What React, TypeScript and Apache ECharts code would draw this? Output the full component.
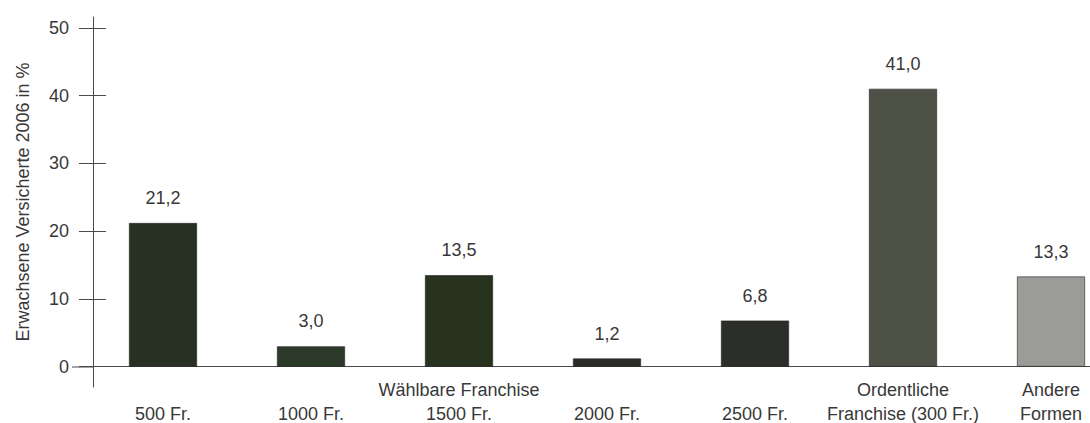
import React, { useEffect, useRef } from "react";
import * as echarts from "echarts";

const categories = [
  "500 Fr.",
  "1000 Fr.",
  "Wählbare Franchise\n1500 Fr.",
  "2000 Fr.",
  "2500 Fr.",
  "Ordentliche\nFranchise (300 Fr.)",
  "Andere\nFormen",
];
const values = [21.2, 3.0, 13.5, 1.2, 6.8, 41.0, 13.3];
const barColors = ["#283024", "#2b3a29", "#27321f", "#2a2d27", "#2c2e2a", "#4e5146", "#9b9b98"];
const yTicks = [0, 10, 20, 30, 40, 50];
const yAxisName = "Erwachsene Versicherte 2006 in %";

const FONT = "'Liberation Sans', Arial, sans-serif";
const TEXT = "#383838";
const AXIS = "#4a4a4a";

export default function App() {
  const ref = useRef<HTMLDivElement>(null);
  useEffect(() => {
    if (!ref.current) return;
    const chart = echarts.init(ref.current, null, { renderer: "svg" });
    chart.setOption({
      animation: false,
      backgroundColor: "#fff",
      textStyle: { fontFamily: FONT },
      grid: {
        left: 89,
        top: 17,
        width: 1036,
        height: 370,
        containLabel: false,
        outerBoundsMode: "none",
      },
      xAxis: {
        type: "category",
        data: categories,
        axisLine: { onZero: true, lineStyle: { color: AXIS, width: 1 } },
        axisTick: { show: false },
        axisLabel: {
          interval: 0,
          color: TEXT,
          fontSize: 18,
          lineHeight: 24,
          verticalAlign: "top",
          margin: -9,
          fontFamily: FONT,
          formatter: (v: string) => (v.indexOf("\n") >= 0 ? v : "\n" + v),
        },
      },
      yAxis: [
        {
          type: "value",
          min: -3,
          max: 51.6,
          offset: -4,
          name: yAxisName,
          nameLocation: "middle",
          nameGap: 61,
          nameTextStyle: { color: TEXT, fontSize: 18, fontFamily: FONT },
          axisLine: { show: true, lineStyle: { color: AXIS, width: 1 } },
          axisTick: { show: true, customValues: yTicks, length: 14, lineStyle: { color: AXIS } },
          axisLabel: { customValues: yTicks, color: TEXT, fontSize: 18, margin: 24, fontFamily: FONT },
          splitLine: { show: false },
        },
        {
          type: "value",
          min: -3,
          max: 51.6,
          offset: -4,
          position: "left",
          axisLine: { show: false },
          axisTick: { show: true, inside: true, customValues: yTicks, length: 13, lineStyle: { color: AXIS } },
          axisLabel: { show: false },
          splitLine: { show: false },
        },
      ],
      series: [
        {
          type: "bar",
          barWidth: 68,
          data: values.map((v, i) => ({
            value: v,
            itemStyle: { color: barColors[i], borderColor: "#222", borderWidth: 0.6 },
          })),
          label: {
            show: true,
            position: "top",
            distance: 16,
            color: TEXT,
            fontSize: 18,
            fontFamily: FONT,
            formatter: (p: any) => Number(p.value).toFixed(1).replace(".", ","),
          },
        },
      ],
      graphic: [
        {
          type: "line",
          shape: { x1: 72, y1: 0, x2: 93, y2: 0 },
          y: 367,
          style: { stroke: AXIS, lineWidth: 1 },
        },
      ],
    });
    return () => chart.dispose();
  }, []);
  return (
    <div
      ref={ref}
      style={{ position: "absolute", left: 0, top: 0, width: 1090, height: 423 }}
    />
  );
}
